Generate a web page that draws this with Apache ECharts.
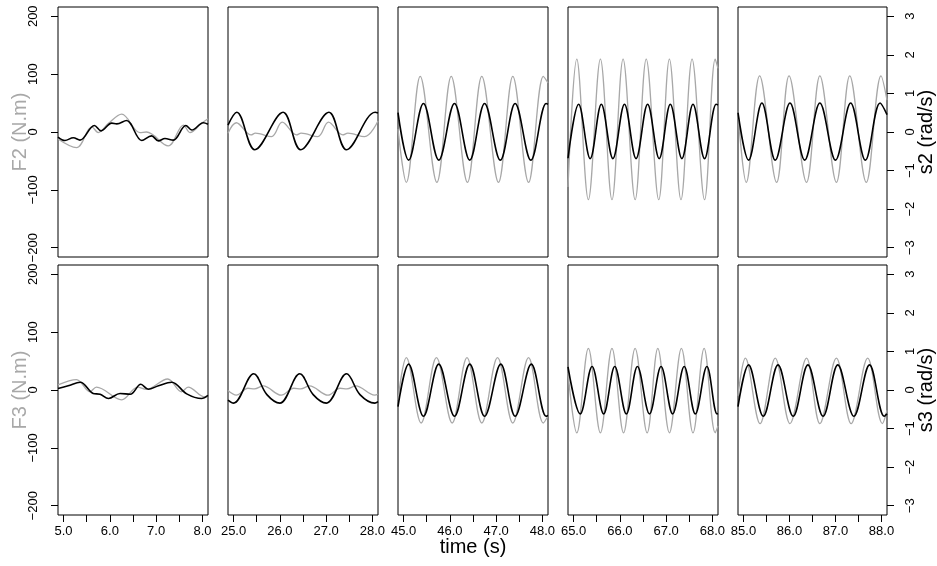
<!DOCTYPE html>
<html><head><meta charset="utf-8">
<script src="https://cdn.jsdelivr.net/npm/echarts@6/dist/echarts.min.js"></script>
<style>html,body{margin:0;padding:0;background:#fff}#c{width:937px;height:566px}</style>
</head><body><div id="c"></div>
<script>
// ---------- tick values / labels ----------
const xTicks1 = [5, 5.5, 6, 6.5, 7, 7.5, 8];
const xTicks2 = [25, 25.5, 26, 26.5, 27, 27.5, 28];
const xTicks3 = [45, 45.5, 46, 46.5, 47, 47.5, 48];
const xTicks4 = [65, 65.5, 66, 66.5, 67, 67.5, 68];
const xTicks5 = [85, 85.5, 86, 86.5, 87, 87.5, 88];
const xLabels1 = [5, 6, 7, 8];
const xLabels2 = [25, 26, 27, 28];
const xLabels3 = [45, 46, 47, 48];
const xLabels4 = [65, 66, 67, 68];
const xLabels5 = [85, 86, 87, 88];
const fTicks = [-200, -100, 0, 100, 200];
const sTicks = [-3, -2, -1, 0, 1, 2, 3];

// ---------- series data: [time (s), value] ----------
// row 1 : F2 (N.m, grey) and s2 (rad/s, black)
const F2_c1 = [[4.88,-12],[5.28,-27],[5.61,9],[5.75,-1],[5.97,15],[6.255,31],[6.65,-1],[6.79,0],[7.26,-24],[7.59,12],[7.73,-1],[7.98,15],[8.12,23]];
const S2_c1 = [[4.88,-0.13],[5.03,-0.22],[5.21,-0.15],[5.355,-0.21],[5.665,0.17],[5.81,0.03],[6.04,0.23],[6.15,0.21],[6.36,0.30],[6.69,-0.22],[6.90,-0.10],[7.05,-0.23],[7.19,-0.17],[7.37,-0.21],[7.64,0.17],[7.77,0.05],[8.02,0.24],[8.12,0.20]];
const F2_c2 = [[24.88,-2],[25.06,16],[25.38,-5],[25.47,-2],[25.82,-8],[26.05,17],[26.36,-5],[26.46,-2],[26.82,-8],[27.05,17],[27.36,-5],[27.47,-2],[27.83,-8],[28.12,19]];
const S2_c2 = [[24.88,0.18],[25.07,0.51],[25.46,-0.46],[26.07,0.51],[26.45,-0.46],[27.06,0.51],[27.44,-0.46],[28.06,0.51],[28.12,0.49]];
const F2_c3 = [[44.88,5],[45.06,-87],[45.36,96],[45.72,-87],[46.03,96],[46.38,-87],[46.69,96],[47.05,-87],[47.36,96],[47.70,-87],[48.02,96],[48.12,85]];
const S2_c3 = [[44.88,0.50],[45.11,-0.73],[45.43,0.74],[45.76,-0.73],[46.10,0.74],[46.43,-0.73],[46.75,0.74],[47.09,-0.73],[47.41,0.74],[47.75,-0.73],[48.08,0.74],[48.12,0.72]];
const F2_c4 = [[64.88,-95],[65.07,126],[65.32,-117],[65.58,126],[65.83,-117],[66.07,126],[66.33,-117],[66.57,126],[66.84,-117],[67.07,126],[67.32,-117],[67.56,126],[67.83,-117],[68.06,126],[68.12,110]];
const S2_c4 = [[64.88,-0.68],[65.11,0.72],[65.36,-0.69],[65.60,0.72],[65.85,-0.69],[66.10,0.72],[66.35,-0.69],[66.60,0.72],[66.85,-0.69],[67.09,0.72],[67.34,-0.69],[67.58,0.72],[67.83,-0.69],[68.08,0.72],[68.12,0.70]];
const F2_c5 = [[84.88,35],[85.06,-87],[85.35,97],[85.72,-87],[85.99,97],[86.37,-87],[86.66,97],[87.02,-87],[87.31,97],[87.67,-87],[87.99,97],[88.12,55]];
const S2_c5 = [[84.88,0.50],[85.11,-0.73],[85.40,0.75],[85.69,-0.73],[86.01,0.75],[86.33,-0.73],[86.66,0.75],[87.00,-0.73],[87.33,0.75],[87.65,-0.73],[87.97,0.75],[88.12,0.45]];
// row 2 : F3 (N.m, grey) and s3 (rad/s, black)
const F3_c1 = [[4.88,9],[5.28,18],[5.57,-3],[5.71,5],[6.255,-17],[6.6,5],[6.78,1],[7.25,19],[7.55,-3],[7.69,5],[8.05,-12],[8.12,-10]];
const S3_c1 = [[4.88,0.04],[5.10,0.11],[5.36,0.20],[5.64,-0.09],[5.79,-0.11],[5.97,-0.22],[6.22,-0.09],[6.44,-0.11],[6.67,0.15],[6.83,0.02],[7.05,0.11],[7.335,0.20],[7.66,-0.10],[7.98,-0.22],[8.12,-0.14]];
const F3_c2 = [[24.88,-1],[25.06,-9],[25.31,3],[25.45,2],[25.64,7],[26.03,-9],[26.30,3],[26.45,2],[26.64,7],[27.04,-9],[27.30,3],[27.45,2],[27.64,7],[28.05,-9],[28.12,-7]];
const S3_c2 = [[24.88,-0.26],[25.00,-0.34],[25.435,0.42],[25.72,-0.12],[26.00,-0.34],[26.43,0.42],[26.72,-0.12],[27.005,-0.34],[27.44,0.42],[27.73,-0.12],[28.05,-0.34],[28.12,-0.30]];
const F3_c3 = [[44.88,-17],[45.06,56],[45.38,-57],[45.71,56],[46.05,-57],[46.37,56],[46.69,-57],[47.03,56],[47.36,-57],[47.70,56],[48.02,-57],[48.12,-45]];
const S3_c3 = [[44.88,-0.43],[45.11,0.67],[45.43,-0.68],[45.76,0.67],[46.10,-0.68],[46.43,0.67],[46.75,-0.68],[47.10,0.67],[47.41,-0.68],[47.76,0.67],[48.08,-0.68],[48.12,-0.66]];
const F3_c4 = [[64.88,30],[65.07,-74],[65.32,72],[65.58,-74],[65.83,72],[66.08,-74],[66.33,72],[66.59,-74],[66.82,72],[67.07,-74],[67.33,72],[67.58,-74],[67.82,72],[68.06,-74],[68.12,-62]];
const S3_c4 = [[64.88,0.60],[65.145,-0.62],[65.40,0.61],[65.65,-0.62],[65.89,0.61],[66.14,-0.62],[66.38,0.61],[66.64,-0.62],[66.89,0.61],[67.14,-0.62],[67.39,0.61],[67.63,-0.62],[67.88,0.61],[68.10,-0.62],[68.12,-0.61]];
const F3_c5 = [[84.88,-10],[85.04,55],[85.36,-58],[85.69,55],[86.01,-58],[86.37,55],[86.66,-58],[87.02,55],[87.34,-58],[87.70,55],[88.02,-58],[88.12,-35]];
const S3_c5 = [[84.88,-0.43],[85.11,0.65],[85.43,-0.68],[85.75,0.65],[86.08,-0.68],[86.40,0.65],[86.73,-0.68],[87.05,0.65],[87.40,-0.68],[87.74,0.65],[88.06,-0.68],[88.12,-0.62]];

// ---------- assembly ----------
const xTicks = [xTicks1, xTicks2, xTicks3, xTicks4, xTicks5];
const xLabels = [xLabels1, xLabels2, xLabels3, xLabels4, xLabels5];
const fData = [[F2_c1, F2_c2, F2_c3, F2_c4, F2_c5], [F3_c1, F3_c2, F3_c3, F3_c4, F3_c5]];
const sData = [[S2_c1, S2_c2, S2_c3, S2_c4, S2_c5], [S3_c1, S3_c2, S3_c3, S3_c4, S3_c5]];
const fNames = ['F2 (N.m)', 'F3 (N.m)'];
const sNames = ['s2 (rad/s)', 's3 (rad/s)'];

const colLeft = [58, 228, 398, 568, 738];
const rowTop = [7, 265];
const W = 150, H = 250;
const GREY = '#a8a8a8';
const FONT = '"Liberation Sans", Arial, Helvetica, sans-serif';
const minus = v => String(v).replace('-', '\u2212');

const grids = [], xAxes = [], yAxes = [], series = [];
for (let r = 0; r < 2; r++) {
  for (let c = 0; c < 5; c++) {
    const i = r * 5 + c;
    const bottom = r === 1;
    const span = [xTicks[c][0] - 0.12, xTicks[c][xTicks[c].length - 1] + 0.12];
    grids.push({ left: colLeft[c], top: rowTop[r], width: W, height: H, show: true,
      borderColor: '#000', borderWidth: 1, backgroundColor: 'rgba(0,0,0,0)' });
    xAxes.push({ type: 'value', gridIndex: i, min: span[0], max: span[1],
      axisLine: { show: false, onZero: false }, splitLine: { show: false },
      axisTick: { show: bottom, customValues: xTicks[c], length: 7, lineStyle: { color: '#000', width: 1 } },
      axisLabel: { show: bottom, customValues: xLabels[c], formatter: v => v.toFixed(1), margin: 10,
        fontSize: 13, color: '#000', fontFamily: FONT },
      name: (bottom && c === 2) ? 'time (s)' : '', nameLocation: 'middle', nameGap: 22, nameMoveOverlap: false,
      nameTextStyle: { fontSize: 20, color: '#000', fontFamily: FONT } });
    yAxes.push({ type: 'value', gridIndex: i, position: 'left', min: -216, max: 216,
      axisLine: { show: false, onZero: false }, splitLine: { show: false },
      axisTick: { show: c === 0, customValues: fTicks, length: 7, lineStyle: { color: '#000', width: 1 } },
      axisLabel: { show: c === 0, customValues: fTicks, formatter: minus, rotate: 90, margin: 18,
        fontSize: 13, color: '#000', fontFamily: FONT },
      name: c === 0 ? fNames[r] : '', nameLocation: 'middle', nameGap: 28, nameRotate: 90, nameMoveOverlap: false,
      nameTextStyle: { fontSize: 20, color: GREY, fontFamily: FONT } });
    yAxes.push({ type: 'value', gridIndex: i, position: 'right', min: -3.24, max: 3.24,
      axisLine: { show: false, onZero: false }, splitLine: { show: false },
      axisTick: { show: c === 4, customValues: sTicks, length: 7, lineStyle: { color: '#000', width: 1 } },
      axisLabel: { show: c === 4, customValues: sTicks, formatter: minus, rotate: 90, margin: 17,
        fontSize: 13, color: '#000', fontFamily: FONT },
      name: c === 4 ? sNames[r] : '', nameLocation: 'middle', nameGap: 29, nameRotate: 90, nameMoveOverlap: false,
      nameTextStyle: { fontSize: 20, color: '#000', fontFamily: FONT } });
    series.push({ type: 'line', xAxisIndex: i, yAxisIndex: 2 * i, data: fData[r][c],
      smooth: 0.36, symbol: 'none', clip: true, silent: true, z: 2,
      lineStyle: { color: GREY, width: 1.3 } });
    series.push({ type: 'line', xAxisIndex: i, yAxisIndex: 2 * i + 1, data: sData[r][c],
      smooth: 0.36, symbol: 'none', clip: true, silent: true, z: 3,
      lineStyle: { color: '#000', width: 1.6 } });
  }
}

const chart = echarts.init(document.getElementById('c'), null, { renderer: 'canvas' });
chart.setOption({ animation: false, backgroundColor: '#fff', grid: grids, xAxis: xAxes, yAxis: yAxes, series: series });
</script>
</body></html>
